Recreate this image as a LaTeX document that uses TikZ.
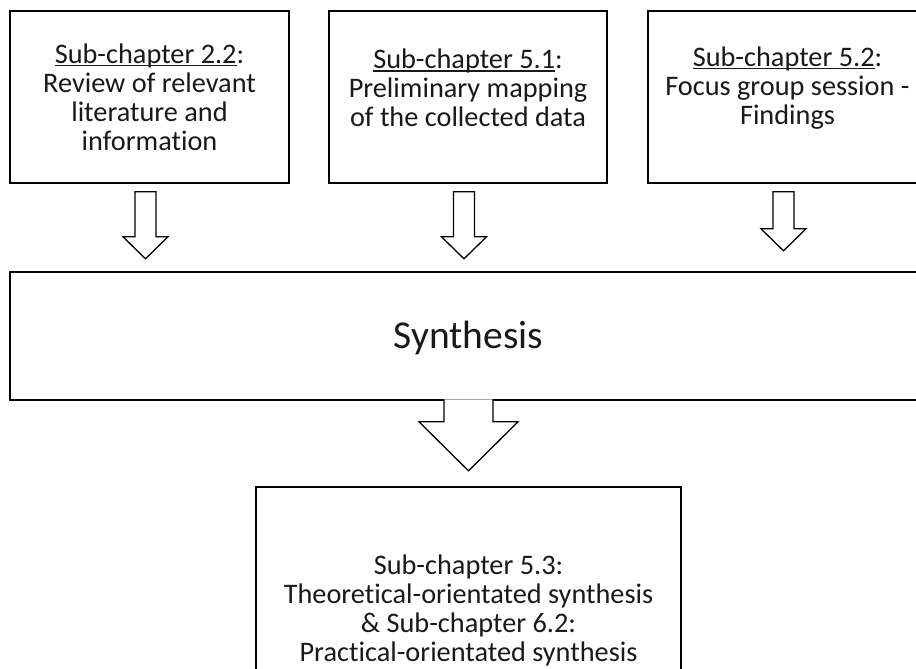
\documentclass[tikz,border=0pt]{standalone}
\usepackage{fontspec}
\setmainfont{Carlito}[Ligatures=NoCommon]
\usepackage{tikz}
\usetikzlibrary{fit}
\tikzset{cell/.style={rectangle, draw, line width=1.6pt, inner sep=0pt}}
\tikzset{blk/.style={draw, line width=1.3pt, fill=white, line join=miter}}
\tikzset{txt/.style={align=center, text=black!90, font=\fontsize{28.3}{29}\selectfont}}
\newcommand{\chapref}[1]{\setbox0=\hbox{#1}\rlap{\rule[-2.8pt]{\wd0}{1.1pt}}\box0}

\begin{document}
\begin{tikzpicture}[x=1pt, y=-1pt]

    \clip (0,0) rectangle (916,669);

    \node[cell, fit={(10,11) (289,183)}, label={[txt, name=t1]center:{\chapref{Sub-chapter 2.2}:\\Review of relevant\\literature and\\information}}] (b1) {};
    \node[cell, fit={(329,11) (607,183)}, label={[txt, name=t2, yshift=9pt]center:{\chapref{Sub-chapter 5.1}:\\Preliminary mapping\\of the collected data}}] (b2) {};
    \node[cell, fit={(648,11) (927,183)}, label={[txt, name=t3, yshift=9pt]center:{\chapref{Sub-chapter 5.2}:\\Focus group session -\\Findings}}] (b3) {};

    \node[cell, fit={(10,272) (927,400)}, label={[txt, name=t4, font=\fontsize{39.5}{41}\selectfont, yshift=-2pt]center:Synthesis}] (syn) {};

    \node[cell, fit={(256,487) (681,733)}, label={[txt, name=t5]center:{Sub-chapter 5.3:\\Theoretical-orientated synthesis\\\& Sub-chapter 6.2:\\Practical-orientated synthesis}}] (res) {};

    \foreach \b/\s in {b1/45, b2/45, b3/37}
      \draw[blk] ([xshift=-4pt]\b.south) ++(-10.5,8) -- ++(0,\s) -- ++(-12,0) -- ++(22.5,22) -- ++(22.5,-22) -- ++(-12,0) -- ++(0,-\s) -- cycle;

    \draw[blk] ([xshift=-24.5pt, yshift=1.5pt]syn.south) -- ++(0,22.5) -- ++(-25,0) -- ++(49.5,49) -- ++(49.5,-49) -- ++(-25,0) -- ++(0,-22.5);

  \end{tikzpicture}
\end{document}
